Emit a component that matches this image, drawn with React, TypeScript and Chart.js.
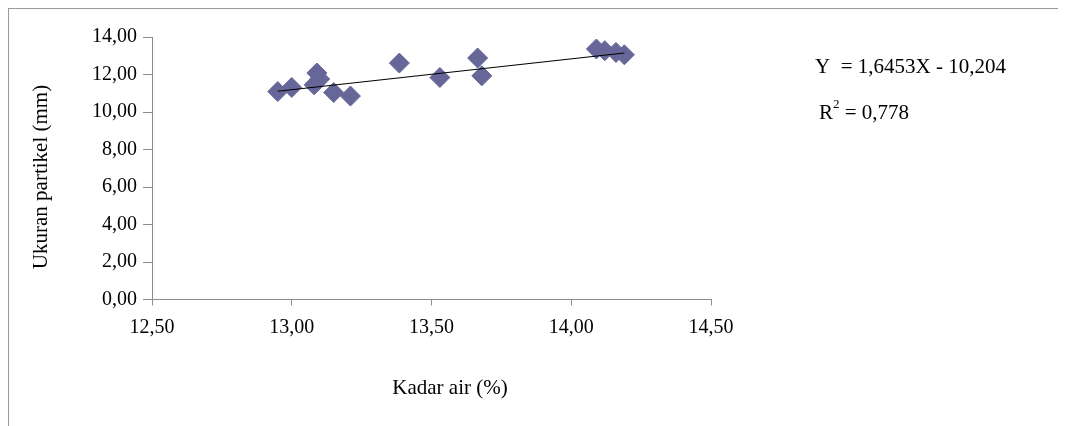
import React, { useEffect, useRef } from 'react';
import { Chart, registerables } from 'chart.js';

Chart.register(...registerables);

// Data
const kadarAir = [12.95, 13.0, 13.09, 13.1, 13.08, 13.15, 13.21, 13.385, 13.53, 13.665, 13.68, 14.09, 14.12, 14.16, 14.19];
const ukuranPartikel = [11.09, 11.31, 12.08, 11.76, 11.45, 11.04, 10.85, 12.61, 11.84, 12.88, 11.93, 13.36, 13.27, 13.18, 13.05];

// Linear trendline coefficients (shown in the chart)
const trendSlope = 1.6453;
const trendIntercept = -10.204;
const equationText = 'Y  = 1,6453X - 10,204';
const r2Value = '0,778';

const xTitle = 'Kadar air (%)';
const yTitle = 'Ukuran partikel (mm)';

const xMin = 12.5, xMax = 14.5, xStep = 0.5;
const yMin = 0, yMax = 14, yStep = 2;

const FONT = "'Liberation Serif', 'Times New Roman', serif";
const AXIS_COLOR = '#8c8c8c';
const MARKER_COLOR = '#666699';

const fmt = (v: number) => Number(v).toFixed(2).replace('.', ',');

const annotationsPlugin = {
  id: 'annotations',
  afterDraw(chart: any) {
    const ctx = chart.ctx as CanvasRenderingContext2D;
    const area = chart.chartArea;
    ctx.save();
    ctx.fillStyle = '#000';
    // axis titles
    ctx.font = `21px ${FONT}`;
    ctx.textAlign = 'center';
    ctx.textBaseline = 'middle';
    ctx.fillText(xTitle, area.left + 298, area.bottom + 89);
    ctx.save();
    ctx.translate(32, area.top + 140);
    ctx.rotate(-Math.PI / 2);
    ctx.fillText(yTitle, 0, 0);
    ctx.restore();
    // equation
    ctx.textAlign = 'left';
    ctx.font = `21px ${FONT}`;
    const ex = area.right + 104;
    ctx.fillText(equationText, ex, area.top + 30);
    const ry = area.top + 76;
    const rx = ex + 4;
    ctx.fillText('R', rx, ry);
    const rw = ctx.measureText('R').width;
    ctx.font = `13px ${FONT}`;
    ctx.fillText('2', rx + rw, ry - 8);
    const sw = ctx.measureText('2').width;
    ctx.font = `21px ${FONT}`;
    ctx.fillText(' = ' + r2Value, rx + rw + sw, ry);
    ctx.restore();
  },
};

export default function App() {
  const canvasRef = useRef<HTMLCanvasElement | null>(null);

  useEffect(() => {
    if (!canvasRef.current) return;
    const xs = kadarAir;
    const lo = Math.min(...xs);
    const hi = Math.max(...xs);
    const trend = [lo, hi].map((x) => ({ x, y: trendSlope * x + trendIntercept }));

    const chart = new Chart(canvasRef.current, {
      type: 'scatter',
      data: {
        datasets: [
          {
            type: 'scatter',
            label: 'Ukuran partikel',
            data: kadarAir.map((x, i) => ({ x, y: ukuranPartikel[i] })),
            pointStyle: 'rectRot',
            pointRadius: 10,
            pointHoverRadius: 10,
            backgroundColor: MARKER_COLOR,
            borderColor: MARKER_COLOR,
            borderWidth: 1,
            order: 2,
          },
          {
            type: 'line',
            label: 'Trendline',
            data: trend,
            borderColor: '#000',
            borderWidth: 1.1,
            pointRadius: 0,
            fill: false,
            order: 1,
          } as any,
        ],
      },
      options: {
        responsive: false,
        animation: false,
        layout: { padding: { top: 28, right: 347, left: 0, bottom: 0 } },
        plugins: {
          legend: { display: false },
          tooltip: { enabled: false },
          title: { display: false },
        },
        scales: {
          x: {
            type: 'linear',
            min: xMin,
            max: xMax,
            afterBuildTicks: (scale: any) => {
              const t = [];
              for (let v = xMin; v <= xMax + 1e-9; v += xStep) t.push({ value: +v.toFixed(2) });
              scale.ticks = t;
            },
            afterFit: (scale: any) => {
              scale.height = 118.5;
            },
            ticks: {
              callback: (v: any) => fmt(v),
              color: '#000',
              font: { family: FONT, size: 20 },
              padding: 10,
              maxRotation: 0,
            },
            grid: {
              display: true,
              drawOnChartArea: false,
              drawTicks: true,
              tickLength: 6,
              color: AXIS_COLOR,
            },
            border: { display: true, color: AXIS_COLOR, width: 1 },
            title: { display: false },
          },
          y: {
            type: 'linear',
            min: yMin,
            max: yMax,
            afterBuildTicks: (scale: any) => {
              const t = [];
              for (let v = yMin; v <= yMax + 1e-9; v += yStep) t.push({ value: v });
              scale.ticks = t;
            },
            afterFit: (scale: any) => {
              scale.width = 143;
            },
            ticks: {
              callback: (v: any) => fmt(v),
              color: '#000',
              font: { family: FONT, size: 20 },
              padding: 6,
            },
            grid: {
              display: true,
              drawOnChartArea: false,
              drawTicks: true,
              tickLength: 9,
              color: AXIS_COLOR,
            },
            border: { display: true, color: AXIS_COLOR, width: 1 },
            title: { display: false },
          },
        },
      },
      plugins: [annotationsPlugin],
    });
    return () => chart.destroy();
  }, []);

  return (
    <div
      style={{
        width: 1058,
        height: 418,
        boxSizing: 'border-box',
        borderLeft: '1px solid #9a9a9a',
        borderTop: '1px solid #9a9a9a',
        background: '#fff',
      }}
    >
      <canvas ref={canvasRef} width={1049} height={409} style={{ display: 'block', width: 1049, height: 409 }} />
    </div>
  );
}
